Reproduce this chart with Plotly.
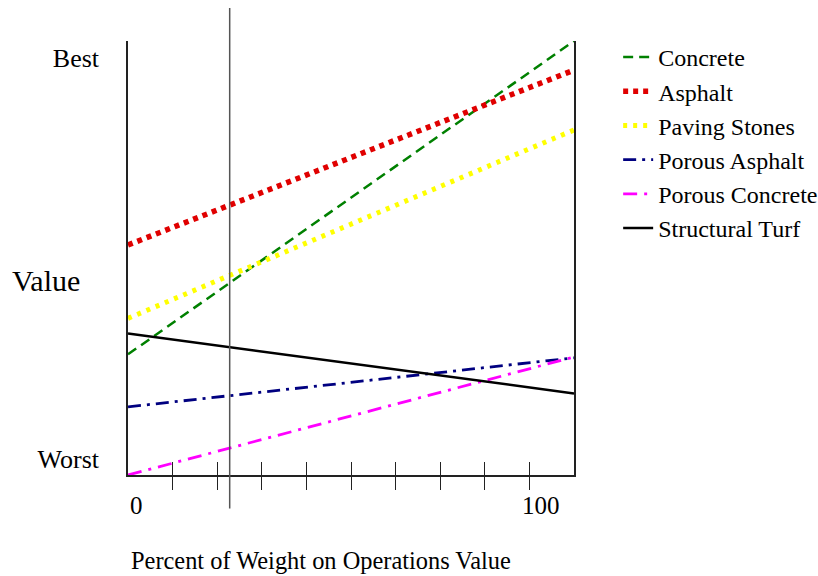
import plotly.graph_objects as go

# Weight placed on operations value (percent), endpoints of each line
weight = [0, 100]

series_names = ["Concrete", "Asphalt", "Paving Stones", "Porous Asphalt",
                "Porous Concrete", "Structural Turf"]
concrete = [27.8, 100.0]
asphalt = [53.0, 93.3]
paving_stones = [36.1, 79.5]
porous_asphalt = [15.7, 27.0]
porous_concrete = [0.0, 27.2]
structural_turf = [32.6, 18.8]

# current weighting marked by the vertical line
current_weight = 22.8

x_tick_marks = [10, 20, 30, 40, 50, 60, 70, 80, 90]
y_tick_vals = [3.7, 96.1]
y_tick_text = ["Worst", "Best"]

FONT = "Liberation Serif, Times New Roman, serif"

styles = [
    dict(color="#008000", width=2.5, dash="10px,6px"),
    dict(color="#e00000", width=5.5, dash="5px,5px"),
    dict(color="#ffff00", width=5, dash="4px,6px"),
    dict(color="#000080", width=2.8, dash="13px,6px,3px,6px"),
    dict(color="#ff00ff", width=2.8, dash="14px,7px,3px,7px"),
    dict(color="#000000", width=2.5, dash="solid"),
]
values = [concrete, asphalt, paving_stones, porous_asphalt,
          porous_concrete, structural_turf]

fig = go.Figure()
for i, (name, vals, st) in enumerate(zip(series_names, values, styles)):
    fig.add_trace(go.Scatter(
        x=weight, y=vals, mode="lines", name=name,
        legendgroup=f"g{i}", line=st, cliponaxis=False,
    ))

# invisible trace carrying the inner half of the crossing ticks
fig.add_trace(go.Scatter(x=weight, y=[None, None], xaxis="x2",
                         showlegend=False, hoverinfo="skip"))

fig.add_shape(type="line", xref="x", yref="paper",
              x0=current_weight, x1=current_weight, y0=-0.077, y1=1.076,
              line=dict(color="#555555", width=1.5))

fig.update_layout(
    width=818, height=576,
    margin=dict(l=128, r=244, t=41, b=101, autoexpand=False),
    paper_bgcolor="white", plot_bgcolor="white",
    font=dict(family=FONT, size=24, color="black"),
    showlegend=True,
    legend=dict(x=1.099, y=1.014, xanchor="left", yanchor="top",
                font=dict(family=FONT, size=24, color="black"),
                tracegroupgap=0, bgcolor="rgba(0,0,0,0)"),
    xaxis=dict(range=[0, 100], showgrid=False, zeroline=False,
               showline=True, linecolor="#222222", linewidth=1.5,
               tickvals=x_tick_marks, ticktext=[""] * len(x_tick_marks),
               ticks="outside", ticklen=13, tickwidth=1.2, tickcolor="#222222"),
    xaxis2=dict(range=[0, 100], overlaying="x", side="bottom",
                showgrid=False, zeroline=False, showline=False,
                tickvals=x_tick_marks, ticktext=[""] * len(x_tick_marks),
                ticks="inside", ticklen=13, tickwidth=1.2, tickcolor="#222222"),
    yaxis=dict(range=[0, 100], showgrid=False, zeroline=False,
               showline=True, mirror=True, linecolor="#222222", linewidth=1.5,
               tickvals=y_tick_vals, ticktext=y_tick_text, ticks="",
               ticklabelstandoff=22,
               tickfont=dict(family=FONT, size=26, color="black")),
)

annotations = [
    dict(text="0", x=0, y=-0.07, xref="x", yref="paper",
         xanchor="left", yanchor="middle", font=dict(size=25)),
    dict(text="100", x=92.5, y=-0.07, xref="x", yref="paper",
         xanchor="center", yanchor="middle", font=dict(size=25)),
    dict(text="Percent of Weight on Operations Value", x=0.432, y=-0.198,
         xref="paper", yref="paper", xanchor="center", yanchor="middle",
         font=dict(size=24.4)),
    dict(text="Value", x=-0.183, y=0.449, xref="paper", yref="paper",
         xanchor="center", yanchor="middle", font=dict(size=30)),
]
for a in annotations:
    a["showarrow"] = False
    a["font"]["family"] = FONT
    a["font"]["color"] = "black"
fig.update_layout(annotations=annotations)

fig.write_html("out.html")
